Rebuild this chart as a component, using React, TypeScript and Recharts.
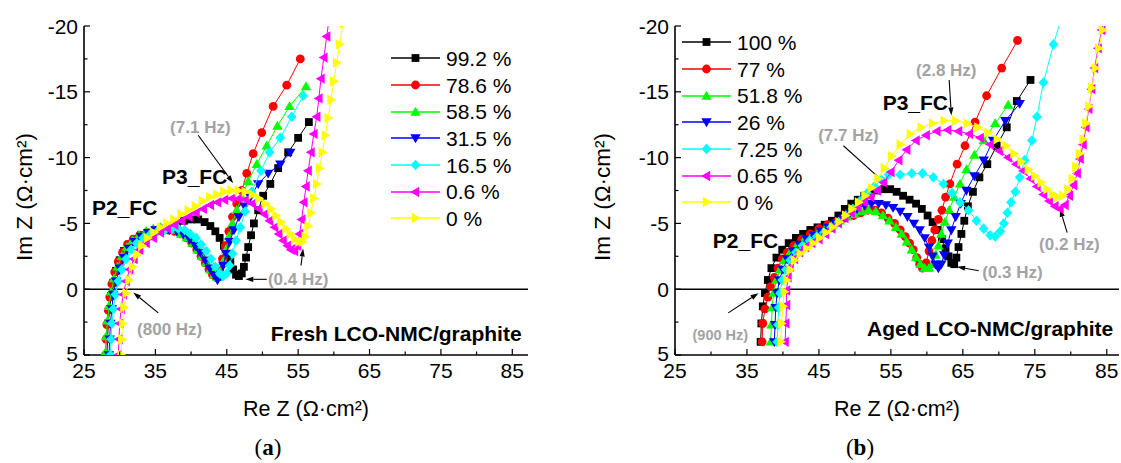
import React from "react"
import {
  ScatterChart,
  Scatter,
  XAxis,
  YAxis,
  ReferenceLine,
  ReferenceDot,
  Legend,
} from "recharts"

type Pt = [number, number] // [Re Z, Im Z] in ohm·cm2
type Kind = "square" | "circle" | "up" | "down" | "diamond" | "left" | "right"

// ---------- (a) fresh LCO-NMC/graphite ----------
const fresh992: Pt[] = [
  [28.2, 5.0], [28.3, 3.8], [28.4, 2.6], [28.6, 1.5], [28.8, 0.5], [29.1, -0.5], [29.5, -1.4], [30.0, -2.2],
  [30.6, -2.9], [31.3, -3.4], [32.1, -3.8], [33.0, -4.1], [34.0, -4.3], [35.0, -4.5], [36.0, -4.6], [37.0, -4.8],
  [38.0, -5.0], [39.0, -5.2], [40.0, -5.3], [41.0, -5.3], [41.9, -5.1], [42.7, -4.8], [43.4, -4.4], [44.0, -3.9],
  [44.6, -3.3], [45.1, -2.7], [45.5, -2.1], [45.9, -1.5], [46.3, -1.1], [46.7, -1.0], [47.1, -1.2], [47.4, -1.7],
  [47.7, -2.4], [48.0, -3.2], [48.4, -4.1], [48.8, -5.0], [49.4, -6.0], [50.1, -7.1], [51.1, -8.0], [52.2, -9.2],
  [53.6, -10.4], [55.0, -11.5], [56.5, -12.7],
]
const fresh786: Pt[] = [
  [28.0, 5.0], [28.1, 3.8], [28.2, 2.7], [28.4, 1.6], [28.6, 0.6], [28.9, -0.4], [29.3, -1.3], [29.8, -2.1],
  [30.4, -2.8], [31.1, -3.4], [31.9, -3.8], [32.8, -4.1], [33.8, -4.3], [34.8, -4.4], [35.8, -4.5], [36.8, -4.5],
  [37.7, -4.4], [38.6, -4.2], [39.4, -3.9], [40.1, -3.5], [40.8, -3.0], [41.4, -2.5], [42.0, -2.0], [42.5, -1.5],
  [43.0, -1.1], [43.5, -0.9], [44.0, -1.4], [44.4, -2.3], [44.8, -3.3], [45.3, -4.4], [45.8, -5.5], [46.4, -6.5],
  [47.1, -7.5], [47.8, -8.8], [48.7, -10.3], [49.9, -11.9], [51.5, -13.9], [53.4, -15.5], [55.3, -17.5],
]
const fresh585: Pt[] = [
  [28.0, 4.8], [28.1, 3.6], [28.3, 2.4], [28.5, 1.3], [28.8, 0.2], [29.2, -0.8], [29.7, -1.7], [30.3, -2.5],
  [31.0, -3.2], [31.8, -3.7], [32.7, -4.1], [33.7, -4.4], [34.7, -4.6], [35.7, -4.7], [36.7, -4.6], [37.7, -4.5],
  [38.6, -4.2], [39.4, -3.9], [40.2, -3.5], [40.9, -3.0], [41.5, -2.5], [42.1, -2.0], [42.7, -1.5], [43.2, -1.1],
  [43.7, -0.9], [44.1, -1.3], [44.5, -2.1], [44.9, -3.0], [45.3, -4.0], [45.8, -5.0], [46.4, -6.0], [47.1, -7.0],
  [48.0, -8.2], [49.2, -9.5], [50.6, -10.9], [52.1, -12.4], [53.8, -13.9], [56.1, -15.4],
]
const fresh315: Pt[] = [
  [28.5, 5.0], [28.6, 3.8], [28.7, 2.6], [28.9, 1.5], [29.1, 0.4], [29.5, -0.6], [30.0, -1.6], [30.6, -2.4],
  [31.3, -3.1], [32.1, -3.6], [33.0, -4.0], [34.0, -4.3], [35.0, -4.5], [36.0, -4.6], [37.0, -4.5], [38.0, -4.4],
  [38.9, -4.2], [39.8, -3.8], [40.6, -3.3], [41.3, -2.8], [42.0, -2.2], [42.6, -1.6], [43.2, -1.1], [43.7, -0.7],
  [44.1, -1.0], [44.5, -1.8], [44.9, -2.7], [45.4, -3.6], [46.0, -4.5], [46.7, -5.5], [47.5, -6.3], [48.3, -7.0],
  [49.4, -8.0], [50.8, -8.8], [52.5, -9.5], [53.9, -10.4],
]
const fresh165: Pt[] = [
  [28.7, 5.0], [28.8, 3.8], [28.9, 2.6], [29.1, 1.5], [29.4, 0.4], [29.8, -0.6], [30.3, -1.5], [30.9, -2.3],
  [31.6, -3.0], [32.4, -3.5], [33.3, -3.9], [34.3, -4.2], [35.3, -4.4], [36.3, -4.5], [37.3, -4.6], [38.2, -4.6],
  [39.1, -4.5], [39.9, -4.2], [40.7, -3.9], [41.4, -3.4], [42.1, -2.9], [42.8, -2.3], [43.4, -1.7], [44.0, -1.2],
  [44.5, -1.0], [45.0, -1.2], [45.4, -1.8], [45.8, -2.7], [46.3, -3.7], [46.9, -4.7], [47.6, -5.9], [48.5, -7.4],
  [49.8, -9.0], [51.0, -10.4], [52.5, -11.5], [54.1, -13.1], [55.7, -14.7],
]
const fresh06: Pt[] = [
  [29.8, 5.0], [29.9, 3.8], [30.0, 2.6], [30.2, 1.5], [30.5, 0.4], [30.9, -0.6], [31.4, -1.5], [32.0, -2.3],
  [32.8, -3.0], [33.7, -3.5], [34.7, -3.9], [35.7, -4.3], [36.7, -4.6], [37.7, -4.9], [38.7, -5.2], [39.7, -5.5],
  [40.7, -5.8], [41.7, -6.1], [42.7, -6.4], [43.7, -6.6], [44.7, -6.8], [45.7, -6.9], [46.7, -6.9], [47.7, -6.8],
  [48.6, -6.5], [49.5, -6.1], [50.3, -5.7], [51.0, -5.2], [51.7, -4.7], [52.3, -4.2], [52.9, -3.7], [53.5, -3.3],
  [54.0, -3.0], [54.5, -2.9], [54.9, -3.3], [55.2, -4.2], [55.5, -5.3], [55.8, -6.6], [56.1, -7.8], [56.4, -9.0],
  [56.8, -10.4], [57.2, -11.8], [57.6, -13.1], [57.9, -14.5], [58.2, -16.0], [58.6, -17.6], [59.0, -19.2], [59.4, -20.8],
]
const fresh0: Pt[] = [
  [30.2, 5.0], [30.3, 3.8], [30.4, 2.6], [30.6, 1.4], [30.9, 0.3], [31.3, -0.7], [31.8, -1.7], [32.4, -2.6],
  [33.1, -3.3], [33.9, -3.9], [34.8, -4.3], [35.7, -4.7], [36.6, -5.0], [37.6, -5.3], [38.6, -5.7], [39.6, -6.0],
  [40.6, -6.3], [41.6, -6.7], [42.6, -7.0], [43.6, -7.2], [44.6, -7.4], [45.6, -7.5], [46.6, -7.5], [47.6, -7.4],
  [48.6, -7.2], [49.5, -6.9], [50.4, -6.5], [51.2, -6.1], [51.9, -5.6], [52.6, -5.1], [53.3, -4.6], [53.9, -4.2],
  [54.5, -3.8], [55.1, -3.6], [55.6, -3.6], [56.0, -4.0], [56.4, -4.8], [56.8, -5.8], [57.2, -6.9], [57.6, -8.0],
  [58.0, -9.2], [58.4, -10.4], [58.8, -11.7], [59.2, -13.0], [59.6, -14.4], [60.0, -15.8], [60.4, -17.2], [60.8, -18.6],
  [61.3, -20.2],
]

// ---------- (b) aged LCO-NMC/graphite ----------
const aged100: Pt[] = [
  [36.9, 4.0], [37.0, 2.6], [37.2, 1.3], [37.5, 0.3], [37.9, -0.7], [38.4, -1.6], [39.1, -2.4], [39.9, -3.0],
  [40.8, -3.5], [41.8, -3.9], [42.8, -4.2], [43.8, -4.5], [44.8, -4.7], [45.8, -4.9], [46.8, -5.2], [47.7, -5.6],
  [48.6, -6.1], [49.5, -6.5], [50.4, -6.8], [51.3, -7.1], [52.2, -7.3], [53.1, -7.5], [54.0, -7.6], [54.9, -7.6],
  [55.8, -7.4], [56.7, -7.1], [57.6, -6.8], [58.5, -6.5], [59.3, -6.1], [60.1, -5.6], [60.8, -5.1], [61.5, -4.5],
  [62.1, -3.8], [62.6, -3.1], [63.0, -2.5], [63.4, -2.0], [63.8, -1.9], [64.1, -2.4], [64.4, -3.2], [64.8, -4.2],
  [65.2, -5.2], [65.7, -6.3], [66.4, -7.4], [67.3, -8.5], [68.4, -9.5], [69.7, -10.9], [71.1, -12.3], [72.5, -14.3],
  [74.4, -15.9],
]
const aged77: Pt[] = [
  [37.1, 4.0], [37.2, 2.6], [37.5, 1.5], [37.9, 0.6], [38.3, -0.2], [38.8, -0.9], [39.3, -1.6], [39.9, -2.3],
  [40.6, -2.8], [41.5, -3.3], [42.6, -3.8], [43.8, -4.2], [45.0, -4.6], [46.2, -4.9], [47.4, -5.1], [48.6, -5.4],
  [49.8, -5.6], [50.8, -5.8], [51.8, -6.0], [52.8, -6.0], [53.7, -5.8], [54.6, -5.4], [55.5, -5.0], [56.3, -4.5],
  [57.0, -4.0], [57.6, -3.5], [58.1, -3.0], [58.6, -2.4], [59.0, -1.9], [59.4, -1.6], [59.9, -2.0], [60.3, -2.9],
  [60.7, -3.7], [61.1, -4.5], [61.6, -5.3], [62.1, -6.0], [62.6, -7.0], [63.2, -8.0], [64.2, -9.5], [65.3, -10.9],
  [66.7, -12.7], [68.3, -14.7], [70.4, -16.8], [72.6, -18.9],
]
const aged518: Pt[] = [
  [38.3, 4.0], [38.4, 2.7], [38.5, 1.4], [38.7, 0.3], [39.1, -0.7], [39.6, -1.5], [40.2, -2.2], [41.0, -2.8],
  [41.9, -3.3], [42.9, -3.7], [43.9, -4.0], [44.9, -4.3], [45.9, -4.6], [46.9, -4.9], [47.9, -5.2], [48.9, -5.5],
  [49.9, -5.7], [50.9, -5.9], [51.9, -6.0], [52.9, -5.9], [53.9, -5.6], [54.8, -5.2], [55.7, -4.7], [56.5, -4.2],
  [57.2, -3.6], [57.9, -3.0], [58.5, -2.4], [59.1, -1.9], [59.7, -1.6], [60.3, -1.6], [60.8, -1.9], [61.2, -2.6],
  [61.6, -3.3], [62.0, -4.2], [62.5, -5.1], [63.1, -6.0], [63.8, -7.0], [64.6, -8.0], [65.5, -9.1], [66.6, -10.2],
  [67.9, -11.3], [69.5, -12.6], [71.3, -14.0],
]
const aged26: Pt[] = [
  [38.8, 4.0], [38.9, 2.7], [39.0, 1.4], [39.2, 0.3], [39.5, -0.7], [40.0, -1.5], [40.6, -2.3], [41.4, -2.9],
  [42.3, -3.4], [43.3, -3.8], [44.3, -4.1], [45.3, -4.4], [46.3, -4.7], [47.3, -5.0], [48.3, -5.4], [49.3, -5.8],
  [50.3, -6.1], [51.3, -6.4], [52.3, -6.5], [53.3, -6.5], [54.3, -6.4], [55.3, -6.2], [56.3, -5.9], [57.3, -5.5],
  [58.2, -5.0], [59.0, -4.5], [59.7, -3.9], [60.3, -3.2], [60.8, -2.5], [61.2, -1.9], [61.6, -1.6], [62.0, -1.9],
  [62.4, -2.6], [62.9, -3.5], [63.4, -4.5], [64.0, -5.5], [64.7, -6.5], [65.5, -7.5], [66.6, -8.6], [67.9, -9.8],
  [69.2, -11.3], [70.9, -12.8], [72.9, -14.1],
]
const aged725: Pt[] = [
  [39.2, 4.0], [39.3, 2.7], [39.4, 1.4], [39.6, 0.3], [39.9, -0.7], [40.4, -1.5], [41.0, -2.2], [41.8, -2.8],
  [42.7, -3.3], [43.7, -3.7], [44.7, -4.0], [45.7, -4.3], [46.7, -4.7], [47.7, -5.1], [48.7, -5.6], [49.7, -6.1],
  [50.7, -6.7], [51.7, -7.3], [52.7, -7.8], [53.7, -8.3], [54.7, -8.7], [56.3, -8.7], [57.9, -8.8], [59.4, -8.8],
  [60.9, -8.5], [62.3, -8.0], [63.5, -7.3], [64.6, -6.6], [65.8, -6.0], [66.9, -5.2], [67.9, -4.6], [68.8, -4.1],
  [69.5, -4.0], [70.2, -4.4], [70.7, -5.0], [71.2, -5.8], [71.7, -6.6], [72.3, -7.4], [72.9, -8.5], [73.6, -9.8],
  [74.6, -11.3], [75.3, -13.1], [76.2, -15.7], [77.6, -18.6], [78.8, -20.8],
]
const aged065: Pt[] = [
  [40.3, 4.0], [40.4, 2.6], [40.5, 1.2], [40.5, 0.1], [40.7, -0.9], [41.0, -1.7], [41.6, -2.3], [42.3, -2.8],
  [43.1, -3.2], [44.0, -3.5], [45.0, -3.8], [45.9, -4.2], [46.8, -4.6], [47.7, -5.0], [48.6, -5.4], [49.5, -5.8],
  [50.4, -6.2], [51.3, -6.6], [52.2, -7.0], [53.1, -7.5], [54.0, -8.1], [55.0, -8.9], [56.1, -9.8], [57.2, -10.6],
  [58.5, -11.3], [59.9, -11.7], [61.4, -12.0], [62.9, -12.1], [64.4, -12.0], [65.9, -11.8], [67.4, -11.5], [68.8, -11.0],
  [70.1, -10.5], [71.3, -10.0], [72.4, -9.5], [73.4, -9.0], [74.4, -8.4], [75.3, -7.8], [76.2, -7.2], [77.0, -6.7],
  [77.8, -6.3], [78.5, -6.1], [79.2, -6.4], [79.8, -7.1], [80.4, -7.9], [80.9, -8.8], [81.3, -9.9], [81.7, -11.0],
  [82.1, -12.3], [82.5, -13.7], [82.9, -15.2], [83.3, -16.8], [83.8, -18.3], [84.3, -19.7], [84.8, -21.0],
]
const aged0: Pt[] = [
  [39.7, 4.0], [39.8, 2.6], [40.0, 1.3], [40.2, 0.2], [40.5, -0.7], [41.0, -1.5], [41.6, -2.2], [42.4, -2.7],
  [43.3, -3.1], [44.2, -3.5], [45.1, -3.9], [46.0, -4.3], [46.9, -4.7], [47.8, -5.1], [48.7, -5.6], [49.6, -6.1],
  [50.5, -6.6], [51.4, -7.1], [52.3, -7.7], [53.2, -8.4], [54.1, -9.2], [55.1, -10.1], [56.3, -11.0], [57.7, -11.8],
  [59.2, -12.3], [60.8, -12.6], [62.4, -12.8], [64.0, -12.8], [65.6, -12.6], [67.1, -12.3], [68.5, -11.9], [69.8, -11.4],
  [71.0, -10.9], [72.1, -10.3], [73.1, -9.7], [74.1, -9.1], [75.0, -8.6], [75.9, -8.1], [76.7, -7.6], [77.5, -7.2],
  [78.2, -7.0], [78.9, -7.1], [79.6, -7.6], [80.2, -8.4], [80.7, -9.3], [81.2, -10.3], [81.7, -11.4], [82.1, -12.6],
  [82.5, -13.9], [82.9, -15.3], [83.4, -16.8], [83.9, -18.3], [84.4, -19.7], [85.0, -21.0],
]

const freshSeries = [fresh992, fresh786, fresh585, fresh315, fresh165, fresh06, fresh0]
const agedSeries = [aged100, aged77, aged518, aged26, aged725, aged065, aged0]
const freshLabels = ["99.2 %", "78.6 %", "58.5 %", "31.5 %", "16.5 %", "0.6 %", "0 %"]
const agedLabels = ["100 %", "77 %", "51.8 %", "26 %", "7.25 %", "0.65 %", "0 %"]

const xTicks = [25, 30, 35, 40, 45, 50, 55, 60, 65, 70, 75, 80, 85]
const xMajor = [25, 35, 45, 55, 65, 75, 85]
const yTicks = [-20, -17.5, -15, -12.5, -10, -7.5, -5, -2.5, 0, 2.5, 5]
const yMajor = [-20, -15, -10, -5, 0, 5]

const colors = ["#000000", "#ff0000", "#00ff00", "#0000ff", "#00ffff", "#ff00ff", "#ffff00"]
const markers: Kind[] = ["square", "circle", "up", "down", "diamond", "left", "right"]

const FONT = '"Liberation Sans", Arial, Helvetica, sans-serif'
const GREY = "#a3a3a3"

type Note = { x: number; y: number; text: string; kind: "tag" | "freq" | "small" | "title" }
type Arrow = { from: Pt; to: Pt }

const freshNotes: Note[] = [
  { x: 30.7, y: -6.2, text: "P2_FC", kind: "tag" },
  { x: 40.5, y: -8.6, text: "P3_FC", kind: "tag" },
  { x: 41.3, y: -12.3, text: "(7.1 Hz)", kind: "freq" },
  { x: 55.0, y: -0.75, text: "(0.4 Hz)", kind: "freq" },
  { x: 37.0, y: 3.1, text: "(800 Hz)", kind: "freq" },
  { x: 86.3, y: 3.35, text: "Fresh LCO-NMC/graphite", kind: "title" },
]
const freshArrows: Arrow[] = [
  { from: [41.0, -11.7], to: [45.9, -8.05] },
  { from: [50.6, -0.75], to: [47.6, -0.75] },
  { from: [55.4, -1.8], to: [55.7, -3.1] },
  { from: [35.4, 1.8], to: [31.9, 0.25] },
]
const agedNotes: Note[] = [
  { x: 34.8, y: -3.7, text: "P2_FC", kind: "tag" },
  { x: 58.4, y: -14.2, text: "P3_FC", kind: "tag" },
  { x: 62.7, y: -16.6, text: "(2.8 Hz)", kind: "freq" },
  { x: 49.1, y: -11.7, text: "(7.7 Hz)", kind: "freq" },
  { x: 31.3, y: 3.5, text: "(900 Hz)", kind: "small" },
  { x: 71.9, y: -1.3, text: "(0.3 Hz)", kind: "freq" },
  { x: 79.8, y: -3.4, text: "(0.2 Hz)", kind: "freq" },
  { x: 85.9, y: 2.96, text: "Aged LCO-NMC/graphite", kind: "title" },
]
const agedArrows: Arrow[] = [
  { from: [63.1, -15.9], to: [63.4, -13.2] },
  { from: [48.4, -10.9], to: [54.2, -8.05] },
  { from: [32.4, 1.8], to: [36.6, 0.3] },
  { from: [67.2, -1.4], to: [64.2, -1.7] },
  { from: [79.5, -4.3], to: [78.5, -6.1] },
]

function Marker({ kind, color, cx, cy }: { kind: Kind; color: string; cx: number; cy: number }) {
  if (cx == null || cy == null) return null
  const s = 5.2
  const h = 3.7
  switch (kind) {
    case "square":
      return <rect x={cx - 3.9} y={cy - 3.9} width={7.8} height={7.8} fill={color} />
    case "circle":
      return <circle cx={cx} cy={cy} r={4.4} fill={color} />
    case "up":
      return <polygon points={`${cx},${cy - s} ${cx + s},${cy + h} ${cx - s},${cy + h}`} fill={color} />
    case "down":
      return <polygon points={`${cx},${cy + s} ${cx + s},${cy - h} ${cx - s},${cy - h}`} fill={color} />
    case "diamond":
      return <polygon points={`${cx},${cy - 5.3} ${cx + 4.9},${cy} ${cx},${cy + 5.3} ${cx - 4.9},${cy}`} fill={color} />
    case "left":
      return <polygon points={`${cx - s},${cy} ${cx + h},${cy - s} ${cx + h},${cy + s}`} fill={color} />
    default:
      return <polygon points={`${cx + s},${cy} ${cx - h},${cy - s} ${cx - h},${cy + s}`} fill={color} />
  }
}

const bottomTick = (p: any) => {
  const major = xMajor.includes(p.payload.value)
  return (
    <g>
      <line x1={p.x} y1={p.y} x2={p.x} y2={p.y - (major ? 6 : 3.5)} stroke="#000" strokeWidth={1.2} />
      {major && (
        <text x={p.x} y={p.y + 23} textAnchor="middle" fontSize={21} fill="#000">
          {p.payload.value}
        </text>
      )}
    </g>
  )
}
const topTick = (p: any) => {
  const major = xMajor.includes(p.payload.value)
  return <line x1={p.x} y1={p.y} x2={p.x} y2={p.y + (major ? 6 : 3.5)} stroke="#000" strokeWidth={1.2} />
}
const leftTick = (p: any) => {
  const major = yMajor.includes(p.payload.value)
  return (
    <g>
      <line x1={p.x} y1={p.y} x2={p.x + (major ? 6 : 3.5)} y2={p.y} stroke="#000" strokeWidth={1.2} />
      {major && (
        <text x={p.x - 6} y={p.y + (p.payload.value === 5 ? 6 : 7.5)} textAnchor="end" fontSize={21} fill="#000">
          {p.payload.value}
        </text>
      )}
    </g>
  )
}
const rightTick = (p: any) => {
  const major = yMajor.includes(p.payload.value)
  return <line x1={p.x} y1={p.y} x2={p.x - (major ? 6 : 3.5)} y2={p.y} stroke="#000" strokeWidth={1.2} />
}

const arrowShape = (p: any) => {
  const { x1, y1, x2, y2 } = p
  const a = Math.atan2(y2 - y1, x2 - x1)
  const bx = x2 - 8 * Math.cos(a)
  const by = y2 - 8 * Math.sin(a)
  const nx = -Math.sin(a) * 2.6
  const ny = Math.cos(a) * 2.6
  return (
    <g>
      <line x1={x1} y1={y1} x2={bx} y2={by} stroke="#000" strokeWidth={1.1} />
      <polygon points={`${x2},${y2} ${bx + nx},${by + ny} ${bx - nx},${by - ny}`} fill="#000" />
    </g>
  )
}

const noteStyle = {
  tag: { fontSize: 21, fill: "#000" },
  freq: { fontSize: 17, fill: GREY },
  small: { fontSize: 14.5, fill: GREY },
  title: { fontSize: 21, fill: "#000" },
}

function LegendList({ labels }: { labels: string[] }) {
  return (
    <div style={{ fontFamily: FONT, fontSize: 21, color: "#000" }}>
      {labels.map((l, i) => (
        <div key={l} style={{ display: "flex", alignItems: "center", height: 26.7 }}>
          <svg width={49} height={12} style={{ overflow: "visible" }}>
            <line x1={0} y1={6} x2={49} y2={6} stroke={colors[i]} strokeWidth={1.3} />
            <Marker kind={markers[i]} color={colors[i]} cx={24.5} cy={6} />
          </svg>
          <span style={{ marginLeft: 6, lineHeight: "21px", whiteSpace: "nowrap" }}>{l}</span>
        </div>
      ))}
    </div>
  )
}

type PanelProps = {
  series: Pt[][]
  labels: string[]
  xMax: number
  left: number
  width: number
  marginLeft: number
  marginRight: number
  legendLeft: number
  legendTop: number
  notes: Note[]
  arrows: Arrow[]
}

function Panel(props: PanelProps) {
  const { series, labels, xMax, left, width, marginLeft, marginRight, legendLeft, legendTop, notes, arrows } = props
  const frame = { stroke: "#000", strokeWidth: 1.6 }
  return (
    <div style={{ position: "absolute", left, top: 0 }}>
      <ScatterChart
        width={width}
        height={463}
        margin={{ top: 26, right: marginRight, bottom: 78, left: marginLeft }}
      >
        <XAxis
          type="number"
          dataKey="x"
          domain={[25, xMax]}
          allowDataOverflow
          ticks={xTicks}
          interval={0}
          height={30}
          tickSize={0}
          tickMargin={0}
          tickLine={false}
          tick={bottomTick}
          axisLine={frame}
        />
        <XAxis
          xAxisId="top"
          orientation="top"
          type="number"
          dataKey="x"
          domain={[25, xMax]}
          allowDataOverflow
          ticks={xTicks}
          interval={0}
          height={0}
          tickSize={0}
          tickMargin={0}
          tickLine={false}
          tick={topTick}
          axisLine={frame}
        />
        <YAxis
          type="number"
          dataKey="y"
          reversed
          domain={[-20, 5]}
          allowDataOverflow
          ticks={yTicks}
          interval={0}
          width={50}
          tickSize={0}
          tickMargin={0}
          tickLine={false}
          tick={leftTick}
          axisLine={frame}
        />
        <YAxis
          yAxisId="right"
          orientation="right"
          type="number"
          dataKey="y"
          reversed
          domain={[-20, 5]}
          allowDataOverflow
          ticks={yTicks}
          interval={0}
          width={0}
          tickSize={0}
          tickMargin={0}
          tickLine={false}
          tick={rightTick}
          axisLine={frame}
        />
        <ReferenceLine y={0} stroke="#000" strokeWidth={1.4} />
        {series.map((pts, i) => (
          <Scatter
            key={labels[i]}
            name={labels[i]}
            data={pts.map(([x, y]) => ({ x, y }))}
            fill={colors[i]}
            line={{ stroke: colors[i], strokeWidth: 1 }}
            lineType="joint"
            shape={(p: any) => <Marker kind={markers[i]} color={colors[i]} cx={p.cx} cy={p.cy} />}
            isAnimationActive={false}
          />
        ))}
        {arrows.map((a, i) => (
          <ReferenceLine
            key={"a" + i}
            segment={[{ x: a.from[0], y: a.from[1] }, { x: a.to[0], y: a.to[1] }]}
            ifOverflow="visible"
            shape={arrowShape}
          />
        ))}
        {notes.map((n) => (
          <ReferenceDot
            key={n.text}
            x={n.x}
            y={n.y}
            r={0}
            ifOverflow="visible"
            shape={(p: any) => (
              <text
                x={p.cx}
                y={p.cy}
                textAnchor={n.kind === "title" ? "end" : "middle"}
                dominantBaseline="central"
                fontWeight="bold"
                {...noteStyle[n.kind]}
              >
                {n.text}
              </text>
            )}
          />
        ))}
        <Legend
          layout="vertical"
          align="center"
          verticalAlign="middle"
          wrapperStyle={{ left: legendLeft, top: legendTop, width: "auto" }}
          content={() => <LegendList labels={labels} />}
        />
      </ScatterChart>
    </div>
  )
}

function AxisTitles({ cx, ylx, tag, tagx }: { cx: number; ylx: number; tag: string; tagx: number }) {
  return (
    <>
      <div
        style={{
          position: "absolute",
          left: cx - 100,
          top: 399,
          width: 200,
          textAlign: "center",
          fontSize: 21.5,
          lineHeight: "21px",
          whiteSpace: "nowrap",
        }}
      >
        Re Z (Ω·cm²)
      </div>
      <div
        style={{
          position: "absolute",
          left: ylx - 100,
          top: 197 - 12,
          width: 200,
          height: 24,
          textAlign: "center",
          fontSize: 22.5,
          lineHeight: "24px",
          whiteSpace: "nowrap",
          transform: "rotate(-90deg)",
        }}
      >
        Im Z (Ω·cm²)
      </div>
      <div
        style={{
          position: "absolute",
          left: tagx - 30,
          top: 435,
          width: 60,
          textAlign: "center",
          fontFamily: '"Liberation Serif", "DejaVu Serif", serif',
          fontSize: 23,
          lineHeight: "26px",
        }}
      >
        (<b>{tag}</b>)
      </div>
    </>
  )
}

export default function App() {
  return (
    <div
      style={{
        position: "absolute",
        left: 0,
        top: 0,
        width: 1121,
        height: 463,
        background: "#fff",
        fontFamily: FONT,
        color: "#000",
      }}
    >
      <Panel
        series={freshSeries}
        labels={freshLabels}
        xMax={87.2}
        left={0}
        width={560}
        marginLeft={34}
        marginRight={32}
        legendLeft={391}
        legendTop={45}
        notes={freshNotes}
        arrows={freshArrows}
      />
      <Panel
        series={agedSeries}
        labels={agedLabels}
        xMax={86.7}
        left={560}
        width={561}
        marginLeft={65}
        marginRight={2}
        legendLeft={122}
        legendTop={29}
        notes={agedNotes}
        arrows={agedArrows}
      />
      <AxisTitles cx={306} ylx={25} tag="a" tagx={268} />
      <AxisTitles cx={897} ylx={603} tag="b" tagx={860} />
    </div>
  )
}
